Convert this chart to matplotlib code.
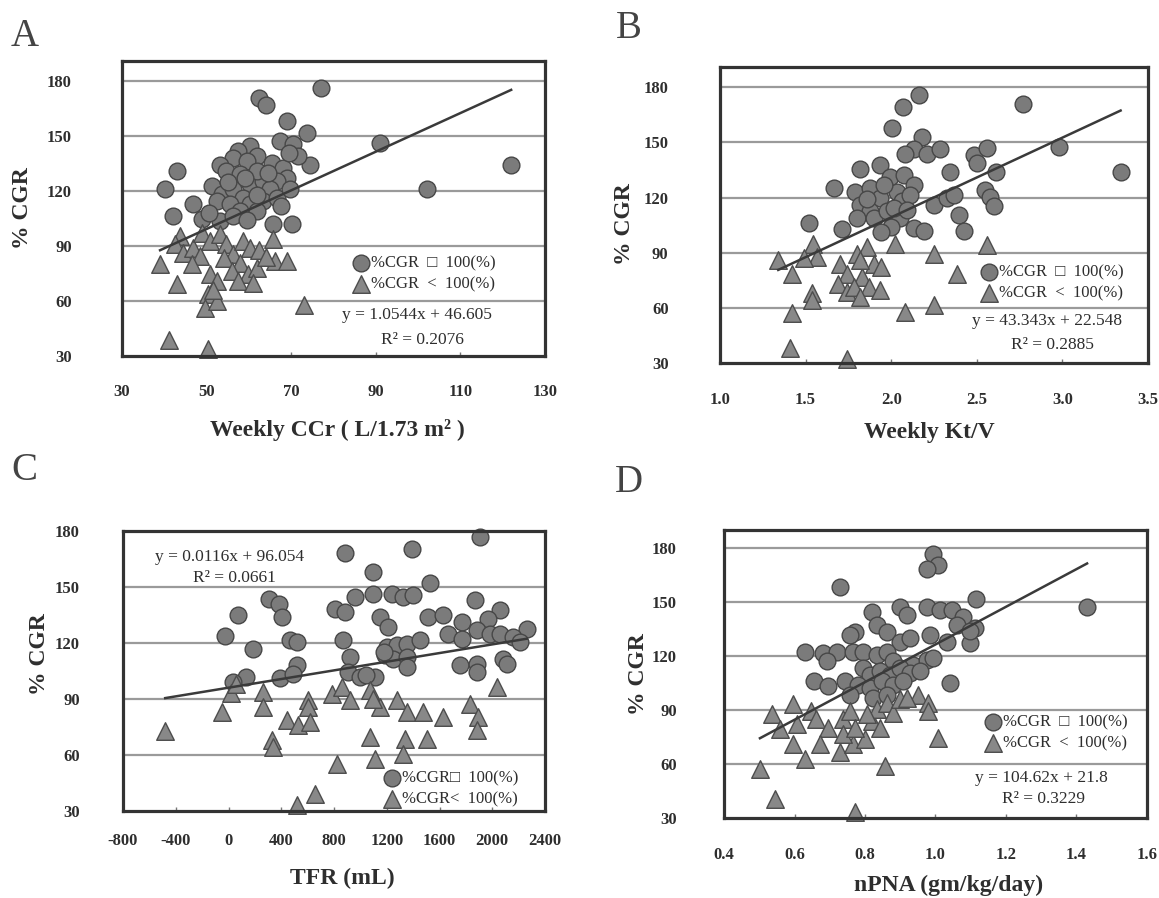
import matplotlib
matplotlib.use('Agg')
import matplotlib.pyplot as plt
from matplotlib.ticker import FormatStrFormatter

plt.rcParams['font.family'] = ['Liberation Serif', 'DejaVu Serif']
plt.rcParams['axes.unicode_minus'] = False

# ---------------- data ----------------
# Panel A: Weekly CCr vs %CGR  (hi = %CGR >= 100, lo = %CGR < 100)
a_hi_x = [77, 62.5, 64.1, 68.9, 73.7, 67.4, 70.5, 60.3, 57.5, 56.3, 61.8, 59.5, 53.2, 54.7, 42.9,
          74.4, 65.4, 68.1, 68.9, 66.6, 57.9, 60.3, 63.4, 65, 40.2, 51.2, 53.6, 56.3, 58.7, 52.4,
          55.5, 60.3, 63.4, 66.6, 69.7, 46.9, 48.8, 42.1, 57.9, 61.8, 53.2, 56.3, 65.8, 70.1, 91,
          102, 122, 62, 64.5, 59, 55, 62, 67.5, 50.5, 59.5, 71.5, 69.5]
a_hi_y = [176, 171, 167, 158.2, 151.8, 147.3, 145.5, 144.5, 141.8, 138.2, 139.1, 136.4, 134.5, 130.9, 130.9,
          134.5, 135.5, 132.7, 127.3, 125.5, 129.1, 123.6, 125.5, 120.9, 120.9, 122.7, 118.2, 120.9, 116.4, 114.5,
          112.7, 112.7, 114.5, 116.4, 120.9, 112.7, 104.5, 106.4, 109.1, 109.1, 103.6, 106.4, 101.8, 101.8, 146,
          121, 134, 131, 130, 127, 125, 118, 112, 108, 104, 139, 141]
a_lo_x = [39, 42.9, 43.7, 42.5, 44.5, 46.9, 48.8, 50.8, 48.4, 46.5, 53.2, 54.7, 56.3, 54, 58.7, 60.3,
          57.9, 59.9, 50.8, 52.4, 50.4, 55.9, 57.5, 61.8, 61, 65.8, 66.2, 68.9, 41, 50.4, 49.6, 52.4,
          73.1, 51.5, 62.5, 64]
a_lo_y = [80, 69.1, 95.5, 90.9, 86.4, 89.1, 97.3, 92.7, 84.5, 80, 96.4, 90.9, 85.5, 83.6, 92.7, 89.1,
          80.9, 74.5, 74.5, 70.9, 63.6, 76.4, 70.9, 78.2, 70, 93.6, 81.8, 81.8, 39, 34, 56, 60,
          58, 66, 88, 84]

# Panel B: Weekly Kt/V vs %CGR
b_hi_x = [2.16, 2.07, 2.004, 2.179, 2.131, 2.209, 2.287, 2.082, 2.481, 2.345, 1.819, 1.936, 1.994, 2.072,
          2.131, 1.663, 1.79, 1.877, 1.936, 1.819, 1.877, 2.033, 2.062, 2.111, 1.799, 1.897, 1.975, 2.053,
          2.131, 2.189, 2.014, 2.248, 2.325, 2.364, 2.394, 2.423, 1.517, 1.712, 2.77, 2.98, 3.34, 2.55,
          2.58, 2.60, 2.56, 2.61, 2.5, 1.96, 1.86, 2.0, 2.09, 1.94]
b_hi_y = [176, 169, 158, 152.7, 146.4, 143.8, 146.4, 143.8, 142.9, 133.9, 135.7, 137.5, 131.3, 132.1,
          126.8, 125, 123.2, 125, 119.6, 116.1, 112.5, 123.2, 117.9, 121.4, 108.9, 108.9, 112.5, 108.9,
          103.6, 101.8, 114.3, 116.1, 119.6, 121.4, 110.7, 101.8, 106.3, 102.7, 171, 147.5, 134, 124,
          120.5, 115.5, 147, 134, 139, 127, 119, 104, 113, 101]
b_lo_x = [1.419, 1.536, 1.419, 1.546, 1.565, 1.702, 1.741, 1.692, 1.741, 1.799, 1.858, 1.897, 1.828,
          1.868, 1.936, 1.78, 1.819, 2.023, 2.248, 2.384, 2.082, 2.248, 2.56, 1.74, 1.41, 1.34, 1.49,
          1.54, 1.94, 1.82]
b_lo_y = [78.6, 67.9, 57.1, 94.6, 87.5, 83.9, 78.6, 73.2, 68.8, 89.3, 92.9, 83.9, 76.8,
          71.4, 69.6, 71.4, 66.1, 94.6, 89.3, 78.6, 58, 61.6, 94, 32, 38, 86, 87,
          64, 82, 86]

# Panel C: TFR vs %CGR
c_hi_x = [1907, 1389, 884, 1099, 1528, 959, 1099, 1238, 1326, 1402, 808, 884, 1870, 310, 380, 403,
          1149, 1212, 1516, 1629, 1768, 2059, 1971, 2261, 1667, 1768, 1882, 1983, 2059, 2160, 2211,
          466, 517, 871, 1200, 1276, 1351, 1452, 1187, 1250, 1351, 1351, 922, 1756, 1882, 1882, 2084,
          2110, 517, 391, 492, 909, 997, 1111, 74, -25, 187, 130, 32, 1040, 1180]
c_hi_y = [177, 170.5, 168, 158, 152, 144.6, 146.4, 146.4, 144.6, 145.5, 138.4, 136.6, 143, 143.5, 141, 134,
          134, 128.6, 134, 134.8, 131.3, 137.5, 133, 127.7, 125, 122.3, 126.8, 125, 125, 123.2, 120.5,
          121.4, 120.5, 121.4, 118, 118.8, 119.6, 121.4, 113.4, 111.6, 112.5, 107.1, 112.5, 108, 108.9, 104.5, 111.6,
          108.9, 108, 101, 103.6, 104.5, 101.8, 101.8, 135, 124, 117, 102, 99, 103, 115]
c_lo_x = [2034, 264, 264, 606, 606, 783, 858, 922, 441, 530, 618, 327, 340, 820, 656, 517, 1073, 1111,
          1149, 1276, 1073, 1099, 1351, 1478, 1629, 1339, 1503, 1326, 1832, 1895, 1882, -480, -53, 18, 60]
c_lo_y = [96.4, 93.8, 85.7, 89.3, 85.7, 92.9, 96.4, 89.3, 78.6, 75.9, 77.7, 67.9, 64.3, 55.4, 39.3, 33, 69.6, 58,
          85.7, 89.3, 94.6, 90.2, 83, 83, 80.4, 68.8, 68.8, 60.7, 87.5, 80.4, 73.2, 73, 83, 93, 98]

# Panel D: nPNA vs %CGR
d_hi_x = [0.994, 1.008, 0.975, 0.729, 1.116, 1.43, 0.819, 0.899, 0.918, 0.975, 1.013, 1.046, 1.079, 1.112,
          1.097, 0.771, 0.757, 0.834, 0.861, 0.899, 0.927, 0.984, 1.032, 1.06, 1.097, 0.630, 0.682, 0.720,
          0.767, 0.795, 0.692, 0.834, 0.861, 0.880, 0.937, 0.975, 0.994, 0.795, 0.814, 0.842, 0.871, 0.899,
          0.927, 0.956, 0.654, 0.696, 0.743, 0.781, 0.814, 0.847, 0.880, 0.908, 1.041, 0.757, 0.823, 0.861]
d_hi_y = [176.7, 170.3, 168.4, 158.3, 151.9, 147, 144.5, 147.3, 142.7, 147.3, 145.5, 145.5, 141.8, 135.4,
          127, 133.5, 131.7, 137.2, 133.5, 128, 129.8, 131.7, 128, 137, 134, 122.5, 121.6, 122.5,
          122.5, 122.5, 117, 120.7, 122.5, 117, 115.2, 117.9, 118.8, 113.3, 109.6, 111.5, 109.6, 113.3,
          110.6, 111.5, 106, 103.2, 106, 104.1, 102.3, 106, 104.1, 106, 105, 98.6, 96.8, 98.6]
d_lo_x = [0.535, 0.596, 0.558, 0.606, 0.648, 0.662, 0.596, 0.630, 0.502, 0.544, 0.771, 0.696, 0.673,
          0.729, 0.739, 0.757, 0.767, 0.800, 0.739, 0.771, 0.819, 0.834, 0.861, 0.805, 0.842, 0.880,
          0.899, 0.856, 0.951, 0.979, 0.979, 1.008, 0.918]
d_lo_y = [87.6, 93.1, 79.3, 82.1, 89.4, 84.8, 71, 62.8, 57.3, 40.8, 33.5, 80.2, 71,
          66.5, 84.8, 89.4, 71, 73.8, 76.6, 80.2, 83.9, 90.4, 94, 87.6, 80.2, 88.5,
          95.9, 59.1, 98.6, 94, 89.4, 74.7, 96.8]

# regression coefficients and R² (as printed in the chart)
fit_a, r2_a = (1.0544, 46.605), '0.2076'
fit_b, r2_b = (43.343, 22.548), '0.2885'
fit_c, r2_c = (0.0116, 96.054), '0.0661'
fit_d, r2_d = (104.62, 21.8), '0.3229'
eq_a = 'y = 1.0544x + 46.605'
eq_b = 'y = 43.343x + 22.548'
eq_c = 'y = 0.0116x + 96.054'
eq_d = 'y = 104.62x + 21.8'

y_ticks = [30, 60, 90, 120, 150, 180]
grid_levels = [60, 90, 120, 150, 180]

# ---------------- figure ----------------
W, H = 1159, 898
fig = plt.figure(figsize=(W / 100, H / 100), dpi=100)
fig.patch.set_facecolor('white')


def rect(l, r, t, b):
    return [l / W, 1 - b / H, (r - l) / W, (b - t) / H]


TXT = '#2e2e2e'
CIRC_FC, CIRC_EC = '#7b7b7b', '#474747'
TRI_FC, TRI_EC = '#888888', '#4d4d4d'


def panel(pos, hx, hy, lx, ly, fit, xlim, ylim, xticks, xfmt, xlabel,
          xlab_xy, ylab_xy, ypad, xpad, leg_labels, leg_anchor, eq, eq_pos, r2_pos, r2):
    ax = fig.add_axes(rect(*pos))
    ax.set_xlim(*xlim)
    ax.set_ylim(*ylim)
    for g in grid_levels:
        ax.axhline(g, color='#9a9a9a', lw=1.6, zorder=1)
    h = ax.scatter(hx, hy, s=145, marker='o', facecolor=CIRC_FC, edgecolor=CIRC_EC,
                   linewidths=1.0, zorder=3, clip_on=False)
    l = ax.scatter(lx, ly, s=160, marker='^', facecolor=TRI_FC, edgecolor=TRI_EC,
                   linewidths=1.0, zorder=3, clip_on=False)
    xs = hx + lx
    x0, x1 = min(xs), max(xs)
    m, c = fit
    ax.plot([x0, x1], [m * x0 + c, m * x1 + c], color='#3a3a3a', lw=1.8, zorder=4)

    ax.set_yticks(y_ticks)
    ax.set_xticks(xticks)
    if xfmt:
        ax.xaxis.set_major_formatter(FormatStrFormatter(xfmt))
    ax.tick_params(axis='y', length=0, pad=ypad, labelsize=12, labelcolor=TXT)
    ax.tick_params(axis='x', direction='in', length=3, width=1, color='#777777',
                   pad=xpad, labelsize=12, labelcolor=TXT)
    for t in ax.get_xticklabels() + ax.get_yticklabels():
        t.set_fontweight('bold')
    for s in ax.spines.values():
        s.set_linewidth(2.3)
        s.set_color('#333333')
        s.set_zorder(5)

    ax.set_xlabel(xlabel, fontsize=17, fontweight='bold', color=TXT, va='center')
    ax.xaxis.set_label_coords(*xlab_xy)
    ax.set_ylabel('% CGR', fontsize=17, fontweight='bold', color=TXT, va='center')
    ax.yaxis.set_label_coords(*ylab_xy)

    leg = ax.legend([h, l], leg_labels, loc='center left', bbox_to_anchor=leg_anchor,
                    bbox_transform=ax.transData, frameon=False, borderpad=0,
                    borderaxespad=0, handlelength=1.0, handletextpad=0.1,
                    labelspacing=0.3, prop={'size': 12})
    for t in leg.get_texts():
        t.set_color(TXT)
    ax.text(eq_pos[0], eq_pos[1], eq, ha='center', va='center', fontsize=12.5, color=TXT)
    ax.text(r2_pos[0], r2_pos[1], 'R² = ' + r2, ha='center', va='center',
            fontsize=12.5, color=TXT)
    return ax


lab_ge = '%CGR  \u25a1  100(%)'
lab_lt = '%CGR  <  100(%)'

panel((122, 545, 61, 356), a_hi_x, a_hi_y, a_lo_x, a_lo_y, fit_a,
      (30, 130), (30, 191), [30, 50, 70, 90, 110, 130], None,
      'Weekly CCr ( L/1.73 m² )', (0.51, -0.25), (-0.236, 0.5), 36, 20,
      [lab_ge, lab_lt], (84.5, 75), eq_a, (99.8, 52.2), (101, 38.5), r2_a)

panel((720, 1148, 67, 363), b_hi_x, b_hi_y, b_lo_x, b_lo_y, fit_b,
      (1.0, 3.5), (30, 191), [1.0, 1.5, 2.0, 2.5, 3.0, 3.5], '%.1f',
      'Weekly Kt/V', (0.49, -0.236), (-0.222, 0.47), 37, 21,
      [lab_ge, lab_lt], (2.525, 73.7), eq_b, (2.91, 52.6), (2.94, 39.7), r2_b)

panel((123, 545, 531, 811), c_hi_x, c_hi_y, c_lo_x, c_lo_y, fit_c,
      (-800, 2400), (30, 180), list(range(-800, 2401, 400)), None,
      'TFR (mL)', (0.52, -0.24), (-0.199, 0.56), 31, 16,
      ['%CGR\u25a1  100(%)', '%CGR<  100(%)'], (1175, 41.6), eq_c, (9, 166), (46, 154.7), r2_c)

panel((724, 1147, 530, 818), d_hi_x, d_hi_y, d_lo_x, d_lo_y, fit_d,
      (0.4, 1.6), (30, 190), [0.4, 0.6, 0.8, 1.0, 1.2, 1.4, 1.6], '%.1f',
      'nPNA (gm/kg/day)', (0.53, -0.233), (-0.203, 0.5), 34, 21,
      [lab_ge, lab_lt], (1.14, 77.5), eq_d, (1.30, 52.5), (1.305, 40.5), r2_d)

for letter, (px, py) in zip('ABCD', [(25, 36), (629, 28), (24, 470), (629, 482)]):
    fig.text(px / W, 1 - py / H, letter, fontsize=28, color='#444444',
             ha='center', va='center')

fig.savefig('out.png', dpi=100, facecolor='white')
